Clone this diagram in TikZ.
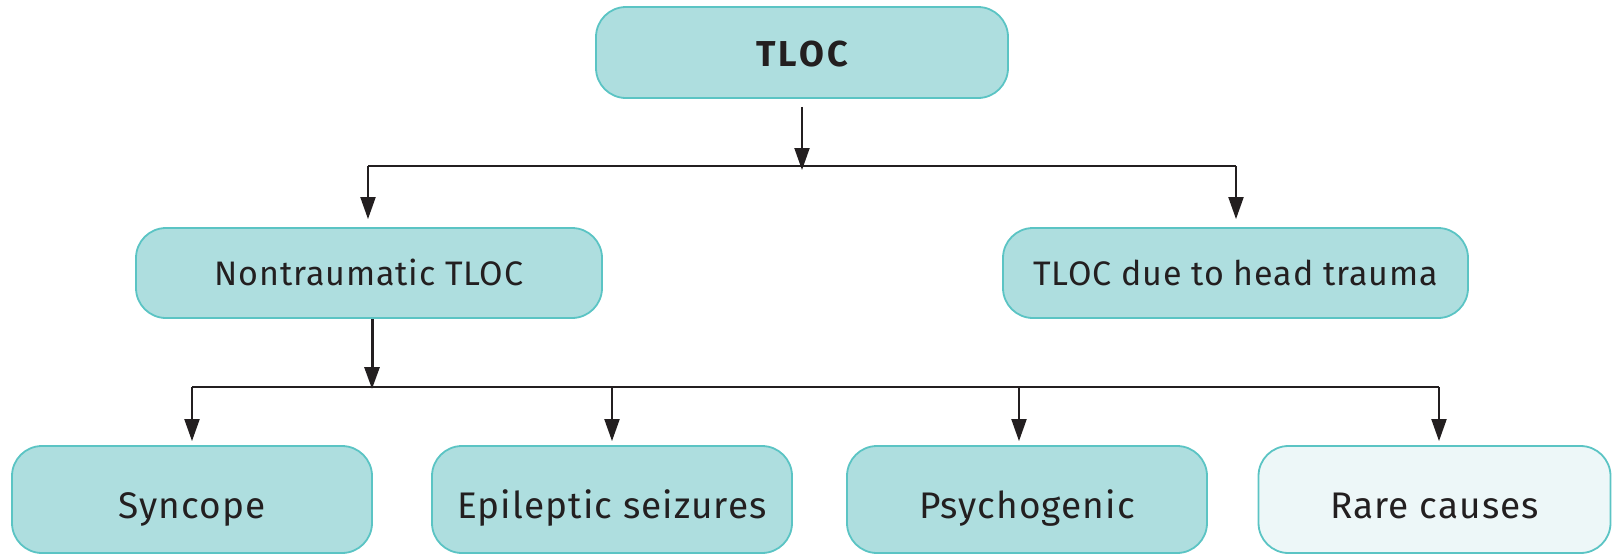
\documentclass[tikz,border=0pt]{standalone}
\usepackage{fontspec}
\setmainfont{Fira Sans}
\usetikzlibrary{arrows.meta}
\definecolor{boxfill}{HTML}{AEDEDF}
\definecolor{boxline}{HTML}{5BC4C4}
\definecolor{palefill}{HTML}{EDF7F8}
\definecolor{ink}{HTML}{231F20}
\tikzset{
  box/.style={draw=boxline, line width=1.8pt, fill=boxfill, rounded corners=30pt,
    inner sep=0pt, font=\fontsize{34}{36}\selectfont\addfontfeatures{LetterSpace=2.5}, text=ink,
    text height=24pt, text depth=0pt},
  lowbox/.style={box, minimum width=360pt, minimum height=107pt, text height=37pt,
    font=\fontsize{37}{40}\selectfont\addfontfeatures{LetterSpace=3}},
  link/.style={draw=ink, line width=2pt},
  arr/.style={link, -{Triangle[length=22pt,width=15pt]}},
}
\begin{document}
\begin{tikzpicture}[x=1pt,y=-1pt]
\useasboundingbox (0,0) rectangle (1612,555);

% top level
\node[box, minimum width=412pt, minimum height=91pt, text height=27pt,
  font=\fontsize{36}{38}\selectfont\bfseries\addfontfeatures{LetterSpace=9}]
  (tloc) at (802,52.5) {TLOC};

% second level
\node[box, minimum width=466pt, minimum height=90pt] (nontr) at (369,273) {Nontraumatic TLOC};
\node[box, minimum width=465pt, minimum height=90pt] (trauma) at (1235.5,273) {TLOC due to head trauma};

% third level
\node[lowbox] (sync) at (192,499.5) {Syncope};
\node[lowbox] (epi) at (612,499.5) {Epileptic seizures};
\node[lowbox] (psy) at (1027,499.5) {Psychogenic};
\node[lowbox, minimum width=352pt, fill=palefill] (rare) at (1434.5,499.5) {Rare causes};

% branch junctions
\coordinate (j1) at (802,166);
\coordinate (j2) at (372,387);

% from TLOC to its two branches
\draw[arr] ([yshift=-8pt]tloc.south) -- ([yshift=-4pt]j1);
\draw[link] (368,166) -- (1236,166);
\draw[arr] (368,166) -- ([yshift=8pt]nontr.north -| 368,0);
\draw[arr] (1236,166) -- ([yshift=8pt]trauma.north -| 1236,0);

% from nontraumatic TLOC to its four causes
\draw[link, line width=3pt, -{Triangle[length=22pt,width=15pt]}] (nontr.south -| j2) -- ([yshift=-2pt]j2);
\draw[link] (sync.north |- j2) -- (1439,387);
\draw[arr] (sync.north |- j2) -- ([yshift=4pt]sync.north);
\draw[arr] (epi.north |- j2) -- ([yshift=4pt]epi.north);
\draw[arr] (1019,387) -- ([yshift=4pt]psy.north -| 1019,0);
\draw[arr] (1439,387) -- ([yshift=4pt]rare.north -| 1439,0);
\end{tikzpicture}
\end{document}
